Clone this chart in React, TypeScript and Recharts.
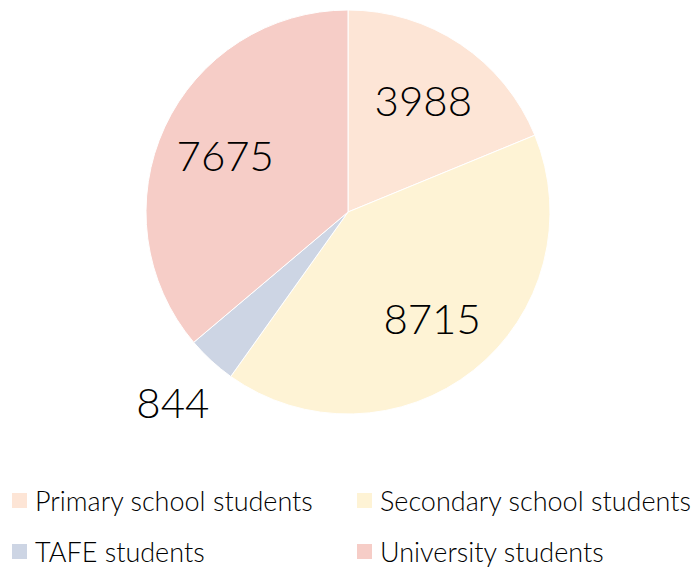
import React from 'react';
import { PieChart, Pie, Cell, Legend } from 'recharts';

const categories = ['Primary school students', 'Secondary school students', 'TAFE students', 'University students'];
const values = [3988, 8715, 844, 7675];
const colors = ['#FDE5D6', '#FEF3D5', '#CDD5E4', '#F6CDC7'];

const data = categories.map((name, i) => ({ name, value: values[i] }));

const FONT = "Lato, 'Open Sans', sans-serif";
const RAD = Math.PI / 180;

const renderLabel = (props: any) => {
  const { cx, cy, midAngle, outerRadius, value, index } = props;
  // small slice gets its label outside the pie
  const r = index === 2 ? outerRadius * 1.28 : outerRadius * 0.67;
  const x = cx + r * Math.cos(-midAngle * RAD);
  const y = cy + r * Math.sin(-midAngle * RAD);
  return (
    <text x={x} y={y} textAnchor="middle" dominantBaseline="central" fill="#000"
      fontSize={42} fontFamily={FONT} fontWeight={300}>
      {value}
    </text>
  );
};

const renderLegend = () => (
  <div style={{ display: 'grid', gridTemplateColumns: '345px 345px', rowGap: 19, fontFamily: FONT, fontWeight: 300, fontSize: 27, color: '#000' }}>
    {categories.map((c, i) => (
      <div key={c} style={{ display: 'flex', alignItems: 'center', height: 32, whiteSpace: 'nowrap' }}>
        <span style={{ display: 'inline-block', width: 15, height: 15, background: colors[i], marginRight: 8 }} />
        {c}
      </div>
    ))}
  </div>
);

const App: React.FC = () => (
  <div style={{ position: 'absolute', left: 0, top: 0 }}>
    <PieChart width={697} height={567} margin={{ top: 0, right: 0, bottom: 0, left: 0 }}>
      <Pie
        data={data}
        dataKey="value"
        nameKey="name"
        cx={348}
        cy={212}
        outerRadius={202}
        startAngle={90}
        endAngle={-270}
        stroke="#fff"
        strokeWidth={1}
        label={renderLabel}
        labelLine={false}
        isAnimationActive={false}
      >
        {data.map((d, i) => (
          <Cell key={d.name} fill={colors[i]} />
        ))}
      </Pie>
      <Legend content={renderLegend} wrapperStyle={{ left: 12, top: 484, width: 697 }} />
    </PieChart>
  </div>
);

export default App;
